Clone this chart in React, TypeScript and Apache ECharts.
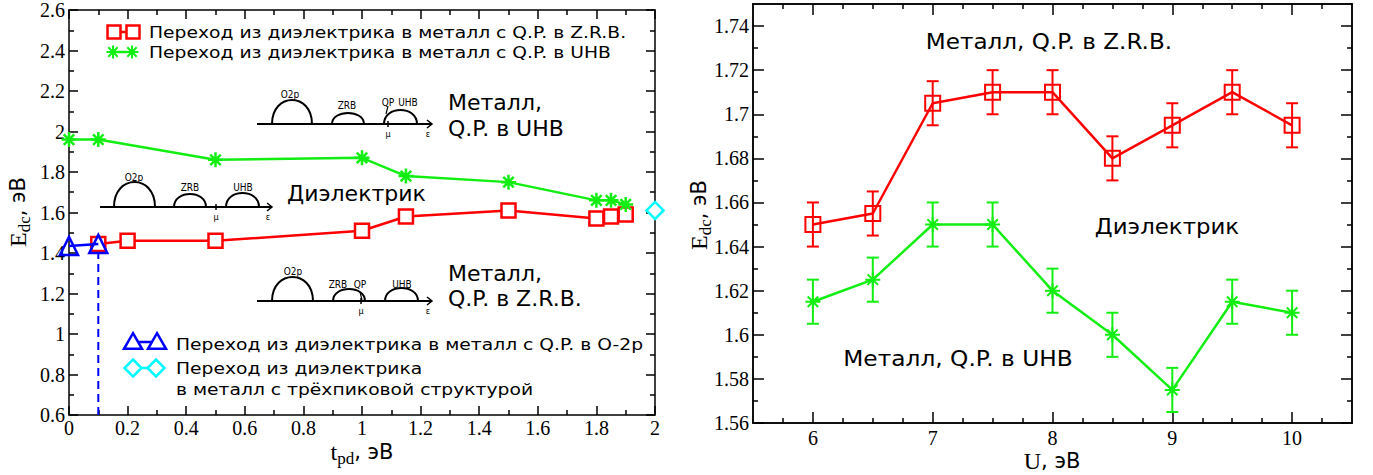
import React, { useEffect, useRef } from 'react';
import * as echarts from 'echarts';

// ---------- Left panel data ----------
const tpdZRB = [0.1, 0.2, 0.5, 1.0, 1.15, 1.5, 1.8, 1.85, 1.9];
const edcZRB = [1.445, 1.46, 1.46, 1.51, 1.58, 1.61, 1.57, 1.58, 1.59];
const tpdUHB = [0, 0.1, 0.5, 1.0, 1.15, 1.5, 1.8, 1.85, 1.9];
const edcUHB = [1.96, 1.96, 1.86, 1.87, 1.78, 1.75, 1.66, 1.66, 1.64];
const tpdO2p = [0, 0.1];
const edcO2p = [1.435, 1.445];
const tpdThree = [2.0];
const edcThree = [1.61];
const dashX = [0.1, 0.1];
const dashY = [0.6, 1.445];

// ---------- Right panel data ----------
const U = [6, 6.5, 7, 7.5, 8, 8.5, 9, 9.5, 10];
const edcUZRB = [1.65, 1.655, 1.705, 1.71, 1.71, 1.68, 1.695, 1.71, 1.695];
const edcUUHB = [1.615, 1.625, 1.65, 1.65, 1.62, 1.6, 1.575, 1.615, 1.61];
const errZRB = [0.01, 0.01, 0.01, 0.01, 0.01, 0.01, 0.01, 0.01, 0.01];
const errUHB = [0.01, 0.01, 0.01, 0.01, 0.01, 0.01, 0.01, 0.01, 0.01];

// ---------- Tick values (right panel) ----------
const uMajorTicks = [6, 7, 8, 9, 10];
const uMinorTicks = [5.75, 6.25, 6.5, 6.75, 7.25, 7.5, 7.75, 8.25, 8.5, 8.75, 9.25, 9.5, 9.75, 10.25];
const eMajorTicks = [1.56, 1.58, 1.6, 1.62, 1.64, 1.66, 1.68, 1.7, 1.72, 1.74];
const eMinorTicks = [1.57, 1.59, 1.61, 1.63, 1.65, 1.67, 1.69, 1.71, 1.73];

// ---------- Texts ----------
const legendZRB = 'Переход из диэлектрика в металл с Q.P. в Z.R.B.';
const legendUHB = 'Переход из диэлектрика в металл с Q.P. в UHB';
const legendO2p = 'Переход из диэлектрика в металл с Q.P. в O-2p';
const legendThree1 = 'Переход из диэлектрика';
const legendThree2 = 'в металл с трёхпиковой структурой';

const RED = '#ff0000';
const GREEN = '#12ee12';
const BLUE = '#0000ff';
const CYAN = '#00ffff';
const SERIF = 'Liberation Serif';
const SANS = 'DejaVu Sans';
const STAR = 'path://M10 0 L10 20 M0 10 L20 10 M3 3 L17 17 M3 17 L17 3';
const LEG_SCALE = 1.17;

const zip = (a: number[], b: number[]) => a.map((v, i) => [v, b[i]]);

function stroke(w = 2, c = '#000') {
  return { stroke: c, lineWidth: w, fill: null as any };
}

function bump(x1: number, x2: number, y: number, h: number) {
  const cy = y - (4 * h) / 3;
  return {
    type: 'bezierCurve',
    shape: { x1, y1: y, cpx1: x1, cpy1: cy, cpx2: x2, cpy2: cy, x2, y2: y },
    style: stroke(2),
  };
}

function smallText(text: string, x: number, y: number, size = 10) {
  return {
    type: 'text',
    x,
    y,
    scaleX: 0.9,
    style: { text, fontSize: size, fontFamily: SANS, fill: '#000', align: 'center', verticalAlign: 'middle' },
  };
}

function bigText(text: string, x: number, y: number, align = 'left', size = 22, scaleX = 1) {
  return {
    type: 'text',
    x,
    y,
    scaleX,
    style: { text, fontSize: size, fontFamily: SANS, fill: '#000', align, verticalAlign: 'middle' },
  };
}

function arrowAxis(x0: number, x1: number, y: number, mu: number) {
  return [
    { type: 'line', shape: { x1: x0, y1: y, x2: x1, y2: y }, style: stroke(2) },
    { type: 'polyline', shape: { points: [[x1 - 5, y - 4], [x1, y], [x1 - 5, y + 4]] }, style: stroke(1.5) },
    { type: 'line', shape: { x1: mu, y1: y - 3, x2: mu, y2: y + 3 }, style: stroke(1.5) },
    smallText('μ', mu, y + 10, 9),
    smallText('ε', x1 - 4, y + 10, 9),
  ];
}

function legendLine(x1: number, x2: number, y: number, c: string) {
  return { type: 'line', shape: { x1, y1: y, x2, y2: y }, style: stroke(2.5, c) };
}
function legSquare(x: number, y: number, s: number, c: string) {
  return { type: 'rect', shape: { x: x - s / 2, y: y - s / 2, width: s, height: s }, style: { stroke: c, lineWidth: 2.5, fill: '#fff' } };
}
function legStar(x: number, y: number, s: number, c: string) {
  const r = s / 2;
  const d = r * 0.72;
  return [
    { type: 'line', shape: { x1: x, y1: y - r, x2: x, y2: y + r }, style: stroke(2, c) },
    { type: 'line', shape: { x1: x - r, y1: y, x2: x + r, y2: y }, style: stroke(2, c) },
    { type: 'line', shape: { x1: x - d, y1: y - d, x2: x + d, y2: y + d }, style: stroke(2, c) },
    { type: 'line', shape: { x1: x - d, y1: y + d, x2: x + d, y2: y - d }, style: stroke(2, c) },
  ];
}
function legTriangle(x: number, y: number, s: number, c: string) {
  const h = s * 0.866;
  return {
    type: 'polygon',
    shape: { points: [[x, y - h / 2], [x + s / 2, y + h / 2], [x - s / 2, y + h / 2]] },
    style: { stroke: c, lineWidth: 2.5, fill: '#fff' },
  };
}
function legDiamond(x: number, y: number, s: number, c: string) {
  const r = s / 2;
  return {
    type: 'polygon',
    shape: { points: [[x, y - r], [x + r, y], [x, y + r], [x - r, y]] },
    style: { stroke: c, lineWidth: 2.5, fill: '#fff' },
  };
}

const titleRich = {
  e: { fontFamily: SERIF, fontSize: 24, fill: '#000' },
  s: { fontFamily: SERIF, fontSize: 17, fill: '#000', padding: [12, 0, 0, 0] },
  n: { fontFamily: SANS, fontSize: 21, fill: '#000' },
};

function axisTitle(main: string, sub: string, x: number, y: number, rotate: boolean) {
  return {
    type: 'text',
    x,
    y,
    rotation: rotate ? Math.PI / 2 : 0,
    style: {
      text: `{e|${main}}` + (sub ? `{s|${sub}}` : '') + `{n|, эВ}`,
      rich: titleRich,
      align: 'center',
      verticalAlign: 'middle',
    },
  };
}

const axisLineStyle = { show: true, onZero: false, lineStyle: { color: '#000', width: 1.5 } };
const tickFont = { fontFamily: SERIF, fontSize: 20, color: '#000' };

export default function App() {
  const ref = useRef<HTMLDivElement>(null);

  useEffect(() => {
    if (!ref.current) return;
    const chart = echarts.init(ref.current, undefined, { renderer: 'svg' });

    const errRender = (color: string) => (params: any, api: any) => {
      const x = api.value(0);
      const p1 = api.coord([x, api.value(1)]);
      const p2 = api.coord([x, api.value(2)]);
      const w = 6;
      const st = { stroke: color, lineWidth: 2 };
      return {
        type: 'group',
        children: [
          { type: 'line', shape: { x1: p1[0], y1: p1[1], x2: p2[0], y2: p2[1] }, style: st },
          { type: 'line', shape: { x1: p1[0] - w, y1: p1[1], x2: p1[0] + w, y2: p1[1] }, style: st },
          { type: 'line', shape: { x1: p2[0] - w, y1: p2[1], x2: p2[0] + w, y2: p2[1] }, style: st },
        ],
      };
    };

    const leftX = {
      type: 'value', gridIndex: 0, min: 0, max: 2, interval: 0.2,
      axisLine: axisLineStyle,
      axisTick: { show: true, inside: true, length: 9, lineStyle: { color: '#000', width: 1.5 } },
      minorTick: { show: true, splitNumber: 2, length: 5, lineStyle: { color: '#000', width: 1.5 } },
      splitLine: { show: false },
    };
    const leftY = {
      type: 'value', gridIndex: 0, min: 0.6, max: 2.6, interval: 0.2,
      axisLine: axisLineStyle,
      axisTick: { show: true, inside: true, length: 9, lineStyle: { color: '#000', width: 1.5 } },
      minorTick: { show: true, splitNumber: 2, length: 5, lineStyle: { color: '#000', width: 1.5 } },
      splitLine: { show: false },
    };

    const rightXBase = { type: 'value', gridIndex: 1, min: 5.5, max: 10.5, axisLine: axisLineStyle, splitLine: { show: false } };
    const rightYBase = { type: 'value', gridIndex: 1, min: 1.56, max: 1.75, axisLine: axisLineStyle, splitLine: { show: false } };
    const majorTick = (vals: number[]) => ({ show: true, inside: true, length: 11, customValues: vals, lineStyle: { color: '#000', width: 1.5 } });
    const minorTickAx = (vals: number[]) => ({ show: true, inside: true, length: 5, customValues: vals, lineStyle: { color: '#000', width: 1.5 } });

    const graphics: any[] = [];
    // legend entries (left)
    graphics.push(legendLine(114, 133, 32, RED), legSquare(114, 32, 13, RED), legSquare(133, 32, 13, RED));
    graphics.push(bigText(legendZRB, 149, 32, 'left', 16, LEG_SCALE));
    graphics.push(legendLine(113, 132, 52, GREEN), ...legStar(113, 52, 13, GREEN), ...legStar(132, 52, 13, GREEN));
    graphics.push(bigText(legendUHB, 149, 52, 'left', 16, LEG_SCALE));
    graphics.push(legendLine(133, 157, 342, BLUE), legTriangle(133, 341, 18, BLUE), legTriangle(157, 341, 18, BLUE));
    graphics.push(bigText(legendO2p, 176, 344, 'left', 16, LEG_SCALE));
    graphics.push(legendLine(133, 156, 368, CYAN), legDiamond(133, 368, 17, CYAN), legDiamond(156, 368, 17, CYAN));
    graphics.push(bigText(legendThree1, 176, 368, 'left', 16, LEG_SCALE));
    graphics.push(bigText(legendThree2, 176, 389, 'left', 16, LEG_SCALE));

    // inset 1: metal, QP in UHB
    graphics.push(...arrowAxis(257, 432, 124, 388));
    graphics.push(bump(272, 312, 124, 24), bump(332, 364, 124, 11), bump(384, 417, 124, 14));
    graphics.push({ type: 'line', shape: { x1: 388, y1: 106, x2: 386, y2: 114 }, style: stroke(1.2) });
    graphics.push(smallText('O2p', 290, 94), smallText('ZRB', 347, 105), smallText('QP', 388, 102), smallText('UHB', 408, 102));
    graphics.push(bigText('Металл,', 448, 102), bigText('Q.P. в UHB', 448, 128));

    // inset 2: dielectric
    graphics.push(...arrowAxis(100, 272, 207, 216));
    graphics.push(bump(114, 155, 207, 25), bump(174, 206, 207, 13), bump(226, 259, 207, 14));
    graphics.push(smallText('O2p', 134, 177), smallText('ZRB', 190, 187), smallText('UHB', 243, 187));
    graphics.push(bigText('Диэлектрик', 287, 193));

    // inset 3: metal, QP in ZRB
    graphics.push(...arrowAxis(257, 432, 301, 361));
    graphics.push(bump(272, 313, 301, 24), bump(333, 365, 301, 12), bump(385, 418, 301, 13));
    graphics.push({ type: 'line', shape: { x1: 360, y1: 292, x2: 362, y2: 300 }, style: stroke(1.2) });
    graphics.push(smallText('O2p', 293, 271), smallText('ZRB', 338, 284), smallText('QP', 360, 284), smallText('UHB', 402, 284));
    graphics.push(bigText('Металл,', 448, 273), bigText('Q.P. в Z.R.B.', 448, 298));

    // right panel labels
    graphics.push(bigText('Металл, Q.P. в Z.R.B.', 1049, 41, 'center', 22, 1.05));
    graphics.push(bigText('Диэлектрик', 1167, 226, 'center', 22, 1.04));
    graphics.push(bigText('Металл, Q.P. в UHB', 958, 358, 'center', 22, 1.06));

    // axis titles
    graphics.push(axisTitle('E', 'dc', 18, 212, true));
    graphics.push(axisTitle('t', 'pd', 362, 452, false));
    graphics.push(axisTitle('E', 'dc', 699, 215, true));
    graphics.push(axisTitle('U', '', 1052, 461, false));

    const option: any = {
      animation: false,
      backgroundColor: '#fff',
      grid: [
        { left: 69, top: 7, width: 586, height: 408, containLabel: false },
        { left: 753, top: 4, width: 599, height: 419, containLabel: false },
      ],
      xAxis: [
        { ...leftX, position: 'bottom', axisLabel: { show: true, margin: 3, ...tickFont } },
        { ...leftX, position: 'top', axisLabel: { show: false } },
        { ...rightXBase, position: 'bottom', axisTick: majorTick(uMajorTicks), axisLabel: { show: true, customValues: uMajorTicks, margin: 5, ...tickFont } },
        { ...rightXBase, position: 'bottom', axisTick: minorTickAx(uMinorTicks), axisLabel: { show: false } },
        { ...rightXBase, position: 'top', axisTick: majorTick(uMajorTicks), axisLabel: { show: false } },
        { ...rightXBase, position: 'top', axisTick: minorTickAx(uMinorTicks), axisLabel: { show: false } },
      ],
      yAxis: [
        { ...leftY, position: 'left', axisLabel: { show: true, margin: 4, ...tickFont } },
        { ...leftY, position: 'right', axisLabel: { show: false } },
        { ...rightYBase, position: 'left', axisTick: majorTick(eMajorTicks), axisLabel: { show: true, customValues: eMajorTicks, margin: 4, ...tickFont } },
        { ...rightYBase, position: 'left', axisTick: minorTickAx(eMinorTicks), axisLabel: { show: false } },
        { ...rightYBase, position: 'right', axisTick: majorTick(eMajorTicks), axisLabel: { show: false } },
        { ...rightYBase, position: 'right', axisTick: minorTickAx(eMinorTicks), axisLabel: { show: false } },
      ],
      series: [
        {
          type: 'line', xAxisIndex: 0, yAxisIndex: 0, data: zip(dashX, dashY), symbol: 'none', clip: false,
          lineStyle: { color: BLUE, width: 2, type: [8, 5] }, z: 2,
        },
        {
          type: 'line', xAxisIndex: 0, yAxisIndex: 0, data: zip(tpdZRB, edcZRB), clip: false,
          symbol: 'rect', symbolSize: 14, itemStyle: { color: '#fff', borderColor: RED, borderWidth: 2.5 },
          lineStyle: { color: RED, width: 2.5 }, z: 3,
        },
        {
          type: 'line', xAxisIndex: 0, yAxisIndex: 0, data: zip(tpdUHB, edcUHB), clip: false,
          symbol: STAR, symbolSize: 15, itemStyle: { color: GREEN, borderColor: GREEN, borderWidth: 2.5 },
          lineStyle: { color: GREEN, width: 2.5 }, z: 3,
        },
        {
          type: 'line', xAxisIndex: 0, yAxisIndex: 0, data: zip(tpdO2p, edcO2p), clip: false,
          symbol: 'triangle', symbolSize: 18, itemStyle: { color: 'rgba(255,255,255,0)', borderColor: BLUE, borderWidth: 2.5 },
          lineStyle: { color: BLUE, width: 2.5 }, z: 4,
        },
        {
          type: 'line', xAxisIndex: 0, yAxisIndex: 0, data: zip(tpdThree, edcThree), clip: false,
          symbol: 'diamond', symbolSize: 17, itemStyle: { color: '#fff', borderColor: CYAN, borderWidth: 2.5 },
          lineStyle: { color: CYAN, width: 2.5 }, z: 4,
        },
        // right panel
        {
          type: 'custom', xAxisIndex: 2, yAxisIndex: 2, renderItem: errRender(RED), clip: false,
          data: U.map((u, i) => [u, edcUZRB[i] - errZRB[i], edcUZRB[i] + errZRB[i]]),
          encode: { x: 0, y: [1, 2] }, z: 2,
        },
        {
          type: 'custom', xAxisIndex: 2, yAxisIndex: 2, renderItem: errRender(GREEN), clip: false,
          data: U.map((u, i) => [u, edcUUHB[i] - errUHB[i], edcUUHB[i] + errUHB[i]]),
          encode: { x: 0, y: [1, 2] }, z: 2,
        },
        {
          type: 'line', xAxisIndex: 2, yAxisIndex: 2, data: zip(U, edcUZRB), clip: false,
          symbol: 'rect', symbolSize: 15, itemStyle: { color: 'rgba(255,255,255,0)', borderColor: RED, borderWidth: 2 },
          lineStyle: { color: RED, width: 2.5 }, z: 3,
        },
        {
          type: 'line', xAxisIndex: 2, yAxisIndex: 2, data: zip(U, edcUUHB), clip: false,
          symbol: STAR, symbolSize: 15, itemStyle: { color: GREEN, borderColor: GREEN, borderWidth: 2 },
          lineStyle: { color: GREEN, width: 2.5 }, z: 3,
        },
      ],
      graphic: { elements: graphics },
    };

    chart.setOption(option);
    return () => chart.dispose();
  }, []);

  return <div ref={ref} style={{ position: 'absolute', left: 0, top: 0, width: 1373, height: 475 }} />;
}
